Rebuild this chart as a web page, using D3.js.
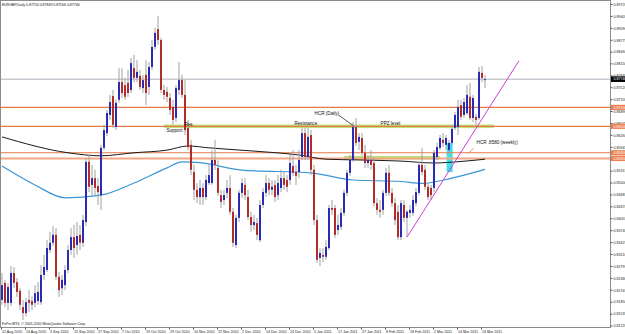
<!DOCTYPE html>
<html><head><meta charset="utf-8">
<script src="https://cdn.jsdelivr.net/npm/d3@7/dist/d3.min.js"></script>
<style>body{margin:0;background:#fff}svg{display:block}text{font-family:"Liberation Sans",Arial,sans-serif}</style>
</head><body><svg id="c" width="625" height="334"></svg>
<script>
const symbolTitle = "EURGBP,Daily  0.87724 0.87849 0.87506 0.87746";
const copyright = "FxPro MT4, \u00a9 2001-2010 MetaQuotes Software Corp.";
const dateLabels = ["12 Aug 2010","24 Aug 2010","3 Sep 2010","15 Sep 2010","27 Sep 2010","7 Oct 2010","19 Oct 2010","29 Oct 2010","10 Nov 2010","22 Nov 2010","2 Dec 2010","14 Dec 2010","24 Dec 2010","5 Jan 2011","17 Jan 2011","27 Jan 2011","8 Feb 2011","18 Feb 2011","2 Mar 2011","14 Mar 2011","24 Mar 2011"];
const barsPerDateLabel = 8;
const priceTicks = ["0.89720","0.89405","0.89090","0.88775","0.88460","0.88150","0.87835","0.87520","0.87205","0.86890","0.86575","0.86260","0.85945","0.85630","0.85315","0.85000","0.84685","0.84370","0.84055","0.83740","0.83425","0.83110","0.82795","0.82480","0.82165","0.81850","0.81535","0.81220"];

const open = [.8191,.8236,.8183,.8183,.8262,.8238,.8215,.8172,.8156,.8191,
.8188,.8183,.8188,.8185,.8257,.8270,.8323,.8342,.8363,.8252,
.8222,.8230,.8270,.8323,.8357,.8336,.8363,.8342,.8397,.8556,
.8495,.8513,.8492,.8468,.8593,.8632,.8680,.8730,.8648,.8720,
.8767,.8759,.8765,.8746,.8804,.8778,.8783,.8751,.8786,.8754,
.8807,.8860,.8907,.8878,.8746,.8741,.8725,.8701,.8672,.8746,
.8772,.8733,.8646,.8601,.8529,.8482,.8463,.8487,.8463,.8500,
.8500,.8561,.8540,.8468,.8455,.8474,.8487,.8424,.8336,.8408,
.8474,.8495,.8463,.8410,.8389,.8394,.8349,.8442,.8474,.8500,
.8482,.8495,.8468,.8487,.8513,.8508,.8508,.8545,.8529,.8529,
.8569,.8632,.8569,.8627,.8535,.8402,.8302,.8310,.8305,.8328,
.8434,.8434,.8376,.8384,.8421,.8474,.8527,.8561,.8648,.8609,
.8619,.8580,.8553,.8561,.8553,.8447,.8429,.8429,.8474,.8527,
.8474,.8447,.8424,.8357,.8442,.8408,.8421,.8421,.8447,.8474,
.8548,.8535,.8490,.8487,.8487,.8569,.8593,.8614,.8601,.8587,
.8606,.8646,.8648,.8706,.8680,.8685,.8728,.8672,.8675,.8672,
.8791,.87724];
const high = [.8262,.8244,.8236,.8281,.8278,.8249,.8222,.8191,.8196,.8217,
.8201,.8230,.8238,.8283,.8310,.8349,.8371,.8386,.8381,.8265,
.8257,.8283,.8336,.8381,.8389,.8397,.8389,.8416,.8566,.8574,
.8548,.8535,.8513,.8601,.8654,.8693,.8733,.8746,.8720,.8804,
.8804,.8778,.8799,.8831,.8839,.8825,.8799,.8786,.8825,.8820,
.8878,.8910,.8942,.8884,.8759,.8754,.8738,.8720,.8759,.8820,
.8786,.8772,.8667,.8614,.8548,.8500,.8508,.8500,.8521,.8548,
.8587,.8614,.8561,.8482,.8482,.8508,.8521,.8434,.8416,.8482,
.8513,.8513,.8482,.8424,.8416,.8408,.8455,.8487,.8521,.8513,
.8508,.8508,.8521,.8535,.8529,.8521,.8574,.8587,.8548,.8587,
.8646,.8646,.8646,.8640,.8548,.8416,.8328,.8328,.8349,.8442,
.8455,.8442,.8416,.8434,.8482,.8535,.8574,.8661,.8672,.8632,
.8632,.8601,.8574,.8587,.8566,.8460,.8455,.8482,.8540,.8548,
.8487,.8460,.8442,.8455,.8455,.8429,.8442,.8468,.8487,.8556,
.8593,.8548,.8500,.8495,.8587,.8606,.8627,.8632,.8627,.8614,
.8654,.8688,.8720,.8720,.8725,.8759,.8765,.8733,.8683,.8807,
.8809,.87849];
const low = [.8178,.8172,.8164,.8175,.8222,.8199,.8164,.8138,.8148,.8159,
.8164,.8172,.8178,.8178,.8244,.8265,.8315,.8334,.8244,.8199,
.8204,.8217,.8262,.8310,.8302,.8310,.8323,.8331,.8386,.8476,
.8468,.8468,.8442,.8429,.8587,.8624,.8667,.8646,.8640,.8712,
.8725,.8720,.8728,.8738,.8767,.8767,.8746,.8738,.8706,.8733,
.8799,.8852,.8865,.8738,.8720,.8714,.8680,.8654,.8661,.8733,
.8725,.8627,.8587,.8521,.8455,.8447,.8442,.8442,.8455,.8495,
.8495,.8535,.8466,.8434,.8442,.8460,.8416,.8331,.8328,.8397,
.8460,.8455,.8402,.8371,.8376,.8349,.8344,.8434,.8463,.8468,
.8468,.8450,.8455,.8476,.8482,.8476,.8495,.8519,.8495,.8513,
.8561,.8561,.8561,.8521,.8389,.8289,.8281,.8291,.8297,.8323,
.8416,.8355,.8363,.8376,.8413,.8466,.8519,.8556,.8598,.8587,
.8572,.8540,.8540,.8535,.8439,.8416,.8408,.8416,.8466,.8466,
.8437,.8389,.8349,.8349,.8397,.8357,.8408,.8413,.8439,.8468,
.8521,.8482,.8455,.8455,.8476,.8561,.8587,.8595,.8587,.8580,
.8601,.8640,.8627,.8667,.8672,.8680,.8667,.8661,.8654,.8667,
.8767,.87506];
const close = [.8230,.8183,.8225,.8262,.8236,.8212,.8178,.8156,.8185,.8183,
.8178,.8209,.8212,.8257,.8278,.8328,.8342,.8363,.8252,.8217,
.8244,.8270,.8323,.8357,.8328,.8360,.8342,.8402,.8556,.8490,
.8513,.8487,.8476,.8593,.8640,.8685,.8714,.8654,.8712,.8767,
.8738,.8728,.8738,.8817,.8778,.8794,.8754,.8772,.8738,.8807,
.8860,.8897,.8878,.8746,.8733,.8728,.8693,.8667,.8751,.8772,
.8733,.8640,.8595,.8535,.8482,.8463,.8487,.8463,.8508,.8521,
.8561,.8548,.8474,.8450,.8468,.8487,.8424,.8342,.8408,.8474,
.8500,.8468,.8410,.8389,.8397,.8363,.8442,.8476,.8500,.8482,
.8490,.8463,.8500,.8513,.8495,.8490,.8553,.8527,.8519,.8561,
.8632,.8569,.8622,.8535,.8402,.8297,.8315,.8305,.8331,.8434,
.8429,.8363,.8389,.8421,.8474,.8527,.8561,.8648,.8606,.8622,
.8580,.8553,.8561,.8548,.8447,.8429,.8424,.8474,.8527,.8474,
.8447,.8402,.8357,.8447,.8408,.8424,.8429,.8455,.8476,.8548,
.8529,.8490,.8463,.8468,.8580,.8595,.8619,.8606,.8619,.8606,
.8643,.8680,.8701,.8675,.8714,.8733,.8672,.8725,.8667,.8794,
.8778,.87746];

// moving averages read at selected bars
const maBlackBars = [0,22,33,44,55,62,69,83,99,108,119,133,144,153,161];
const maBlackVals = [.8622,.8580,.8572,.8580,.8587,.8598,.8593,.8585,.8574,.8563,.8561,.8558,.8553,.8557,.8563];
const maBlueBars = [0,11,21,33,44,55,60,66,80,103,117,133,140,150,161];
const maBlueVals = [.8545,.8495,.8461,.8468,.8500,.8540,.8556,.8554,.8534,.8527,.8508,.8504,.8499,.8513,.8536];

// horizontal levels
const levelPrices = [0.8700, 0.8650, 0.8580, 0.8565];
const levelLabels = ["0.87000","0.86500","0.85800","0.85650"];
const levelWidths = [1.2, 1.2, 1.2, 2];
const levelColors = ["#e47a45","#e47a45","#e47a45","#f2a683"];
// green zones: [startBar, endBar, price]
const zoneStart = [54, 114];
const zoneEnd = [164, 146];
const zonePrice = [0.8650, 0.8567];
// cyan box: bars and prices
const boxBars = [148.2, 150.2];
const boxPrices = [0.8606, 0.8529];
// trend line
const trendBars = [135, 172.3];
const trendPrices = [0.8357, 0.8823];
// text notes
const noteText = ["Res","Support","Resistance","HCR (Daily)","PPZ level","HCR .8580 (weekly)"];
const noteBar = [60.8, 54.8, 97.5, 104.2, 126.2, 158.2];
const notePrice = [0.8651, 0.8635, 0.8654, 0.8679, 0.8654, 0.8603];
const hcrLineBars = [112.3, 117.2];
const hcrLinePrices = [0.8679, 0.8651];
const weeklyLineBars = [157.2, 155.5];
const weeklyLinePrices = [0.8592, 0.8579];

const W = 625, H = 334, plotR = 610.5, plotB = 327.5;
const svg = d3.select("#c");
const x = d3.scaleLinear().domain([0, 203]).range([2, 611]);
const y = d3.scaleLinear().domain([0.8122, 0.8972]).range([326, 4.5]);

svg.append("rect").attr("width", W).attr("height", H).attr("fill", "#fff");

zoneStart.forEach((s, k) => {
  svg.append("rect").attr("x", x(s)).attr("width", x(zoneEnd[k]) - x(s))
    .attr("y", y(zonePrice[k]) - 1.8).attr("height", 3.6).attr("fill", "#bfe07a");
});
svg.append("rect").attr("x", x(boxBars[0])).attr("width", x(boxBars[1]) - x(boxBars[0]))
  .attr("y", y(boxPrices[0])).attr("height", y(boxPrices[1]) - y(boxPrices[0])).attr("fill", "#3fe0e6");

svg.append("line").attr("x1", 0).attr("x2", plotR).attr("y1", y(close[close.length-1])).attr("y2", y(close[close.length-1]))
  .attr("stroke", "#a9b1b9").attr("stroke-width", 1);

levelPrices.forEach((p, k) => {
  svg.append("line").attr("x1", 0).attr("x2", plotR).attr("y1", y(p)).attr("y2", y(p))
    .attr("stroke", levelColors[k]).attr("stroke-width", levelWidths[k]);
});

const lineGen = d3.line().curve(d3.curveMonotoneX);
svg.append("path").attr("d", lineGen(maBlackBars.map((b, k) => [x(b), y(maBlackVals[k])])))
  .attr("fill", "none").attr("stroke", "#1a1a1a").attr("stroke-width", 1);
svg.append("path").attr("d", lineGen(maBlueBars.map((b, k) => [x(b), y(maBlueVals[k])])))
  .attr("fill", "none").attr("stroke", "#3a96d6").attr("stroke-width", 1.2);

const g = svg.append("g");
open.forEach((o, i) => {
  const c = close[i], cx = x(i);
  g.append("rect").attr("x", cx - 0.5).attr("width", 1).attr("y", y(high[i]))
    .attr("height", Math.max(0.6, y(low[i]) - y(high[i]))).attr("fill", "#a2a2a2");
  const top = y(Math.max(o, c)), bot = y(Math.min(o, c));
  g.append("rect").attr("x", cx - 1).attr("width", 2).attr("y", top)
    .attr("height", Math.max(1, bot - top)).attr("fill", c >= o ? "#2a2ab2" : "#b22c2c");
});

svg.append("line").attr("x1", x(trendBars[0])).attr("y1", y(trendPrices[0]))
  .attr("x2", x(trendBars[1])).attr("y2", y(trendPrices[1])).attr("stroke", "#d23cd6").attr("stroke-width", 1);

noteText.forEach((t, k) => {
  svg.append("text").attr("x", x(noteBar[k])).attr("y", y(notePrice[k])).attr("font-size", 4.6)
    .attr("fill", "#111").text(t);
});
svg.append("line").attr("x1", x(hcrLineBars[0])).attr("y1", y(hcrLinePrices[0]))
  .attr("x2", x(hcrLineBars[1])).attr("y2", y(hcrLinePrices[1])).attr("stroke", "#111").attr("stroke-width", 0.7);
svg.append("line").attr("x1", x(weeklyLineBars[0])).attr("y1", y(weeklyLinePrices[0]))
  .attr("x2", x(weeklyLineBars[1])).attr("y2", y(weeklyLinePrices[1])).attr("stroke", "#e2743e").attr("stroke-width", 0.8);

svg.append("rect").attr("x", 0.5).attr("y", 0.5).attr("width", plotR - 0.5).attr("height", plotB - 0.5)
  .attr("fill", "none").attr("stroke", "#8c8c8c").attr("stroke-width", 1);

priceTicks.forEach(t => {
  const py = y(+t);
  svg.append("line").attr("x1", plotR).attr("x2", plotR + 2).attr("y1", py).attr("y2", py).attr("stroke", "#555");
  svg.append("text").attr("x", 613.5).attr("y", py + 1.3).attr("font-size", 3.6).attr("fill", "#222").text(t);
});
levelPrices.forEach((p, k) => {
  svg.append("rect").attr("x", plotR + 0.5).attr("y", y(p) - 2.6).attr("width", 14).attr("height", 5.2).attr("fill", "#ec8050");
  svg.append("text").attr("x", 613.5).attr("y", y(p) + 1.3).attr("font-size", 3.6).attr("fill", "#fff").text(levelLabels[k]);
});
const last = close[close.length - 1];
svg.append("rect").attr("x", plotR + 0.5).attr("y", y(last) - 2.8).attr("width", 14).attr("height", 5.6).attr("fill", "#000");
svg.append("text").attr("x", 613.5).attr("y", y(last) + 1.3).attr("font-size", 3.6).attr("fill", "#fff").text(d3.format(".5f")(last));

dateLabels.forEach((d, k) => {
  const bx = x(k * barsPerDateLabel) - 1;
  svg.append("line").attr("x1", bx + 0.5).attr("x2", bx + 0.5).attr("y1", plotB).attr("y2", plotB + 2).attr("stroke", "#555");
  svg.append("text").attr("x", bx + 1).attr("y", 332.5).attr("font-size", 3.6).attr("fill", "#222").text(d);
});

svg.append("text").attr("x", 2).attr("y", 6).attr("font-size", 3.5).attr("fill", "#111").text(symbolTitle);
svg.append("text").attr("x", 2).attr("y", 325).attr("font-size", 3.5).attr("fill", "#111").text(copyright);
</script></body></html>
